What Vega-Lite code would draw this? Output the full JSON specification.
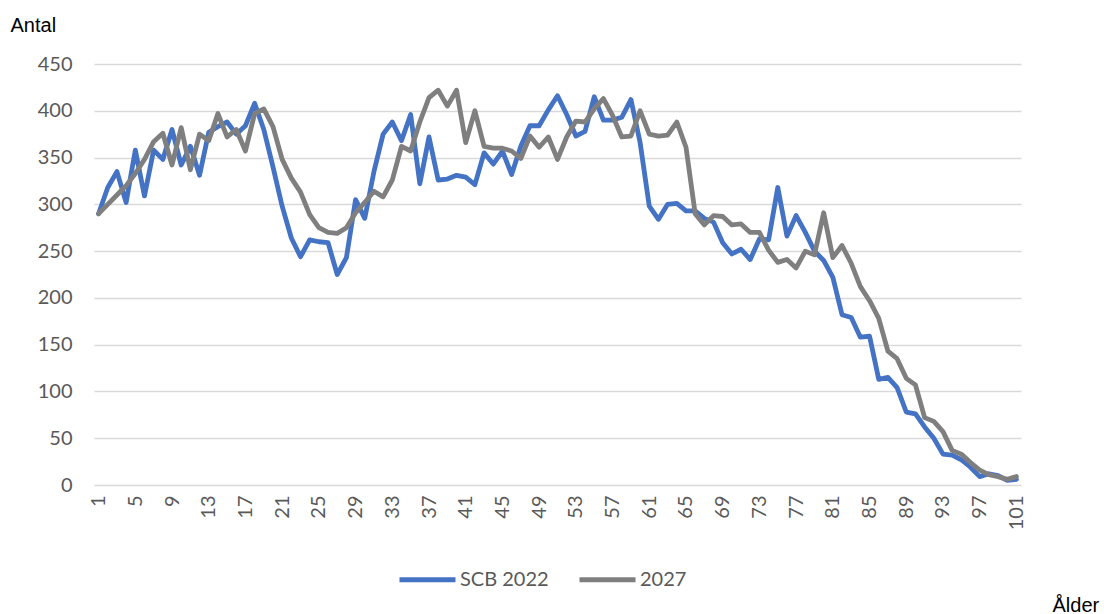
{
  "$schema": "https://vega.github.io/schema/vega-lite/v6.json",
  "width": 927,
  "height": 421,
  "autosize": {"type": "none"},
  "padding": {"left": 94, "top": 64, "right": 83, "bottom": 129},
  "background": "white",
  "config": {"view": {"stroke": null}},
  "datasets": {
    "scb": [290,318,335,302,358,309,358,348,380,342,362,331,377,383,388,375,384,408,380,340,298,264,244,262,260,259,225,243,305,285,335,375,388,368,396,322,372,326,327,331,329,321,355,343,357,332,362,384,384,401,416,396,373,378,415,390,390,393,412,366,298,284,300,301,293,293,285,281,259,247,252,241,263,262,318,266,288,270,250,240,222,182,179,158,159,113,115,104,78,76,62,50,33,32,27,19,9,12,10,5,6],
    "p27": [290,300,310,320,333,348,367,376,342,382,337,375,368,397,372,380,357,397,402,383,348,328,313,289,275,270,269,275,291,302,314,308,326,362,357,388,414,422,405,422,366,400,362,360,360,357,349,373,361,372,348,372,389,388,402,413,395,372,373,400,375,373,374,388,361,290,278,288,287,278,279,270,270,251,238,241,232,250,246,291,243,256,237,212,197,178,143,135,114,107,72,68,57,37,33,24,16,11,9,6,9]
  },
  "layer": [
    {
      "data": {"name": "scb"},
      "transform": [
        {"window": [{"op": "row_number", "as": "Alder"}]},
        {"calculate": "'SCB 2022'", "as": "Serie"}
      ],
      "mark": {"type": "line", "strokeWidth": 4.8, "strokeJoin": "round", "strokeCap": "round"},
      "encoding": {
        "x": {"field": "Alder", "type": "quantitative"},
        "y": {"field": "data", "type": "quantitative"},
        "color": {"field": "Serie", "type": "nominal"}
      }
    },
    {
      "data": {"name": "p27"},
      "transform": [
        {"window": [{"op": "row_number", "as": "Alder"}]},
        {"calculate": "'2027'", "as": "Serie"}
      ],
      "mark": {"type": "line", "strokeWidth": 4.8, "strokeJoin": "round", "strokeCap": "round"},
      "encoding": {
        "x": {"field": "Alder", "type": "quantitative"},
        "y": {"field": "data", "type": "quantitative"},
        "color": {"field": "Serie", "type": "nominal"}
      }
    }
  ],
  "resolve": {"scale": {"x": "shared", "y": "shared", "color": "shared"}},
  "encoding": {
    "x": {
      "field": "Alder", "type": "quantitative",
      "scale": {"domain": [0.5, 101.5], "nice": false, "zero": false},
      "axis": {
        "values": [1,5,9,13,17,21,25,29,33,37,41,45,49,53,57,61,65,69,73,77,81,85,89,93,97,101],
        "labelAngle": 270, "labelAlign": "right", "labelBaseline": "middle",
        "labelFont": "Lato", "labelFontSize": 20, "labelColor": "#595959",
        "labelPadding": 10, "ticks": false, "domain": false, "grid": false,
        "labelOverlap": false, "labelFlush": false,
        "title": "Ålder", "titleFont": "Liberation Sans", "titleFontSize": 20, "titleFontWeight": "normal",
        "titleColor": "#000000", "titleAnchor": "start", "titleAlign": "left", "titleBaseline": "alphabetic",
        "titleX": 958, "titleY": 126, "titleAngle": 0
      }
    },
    "y": {
      "field": "data", "type": "quantitative",
      "scale": {"domain": [0, 450], "nice": false},
      "axis": {
        "values": [0,50,100,150,200,250,300,350,400,450],
        "labelFont": "Lato", "labelFontSize": 20, "labelColor": "#595959",
        "labelPadding": 22, "ticks": false, "domain": false,
        "grid": true, "gridColor": "#D9D9D9", "gridWidth": 1.5,
        "title": "Antal", "titleFont": "Liberation Sans", "titleFontSize": 20, "titleFontWeight": "normal",
        "titleColor": "#000000", "titleAngle": 0, "titleAlign": "left", "titleBaseline": "alphabetic",
        "titleX": -84, "titleY": -33
      }
    },
    "color": {
      "field": "Serie", "type": "nominal",
      "scale": {"domain": ["SCB 2022", "2027"], "range": ["#4472C4", "#7F7F7F"]},
      "legend": {
        "title": null, "orient": "none", "direction": "horizontal",
        "legendX": 303, "legendY": 485,
        "symbolType": "stroke", "symbolSize": 3136, "symbolStrokeWidth": 5,
        "labelFont": "Lato", "labelFontSize": 20, "labelColor": "#595959",
        "labelOffset": 2, "columnPadding": 20
      }
    }
  }
}
